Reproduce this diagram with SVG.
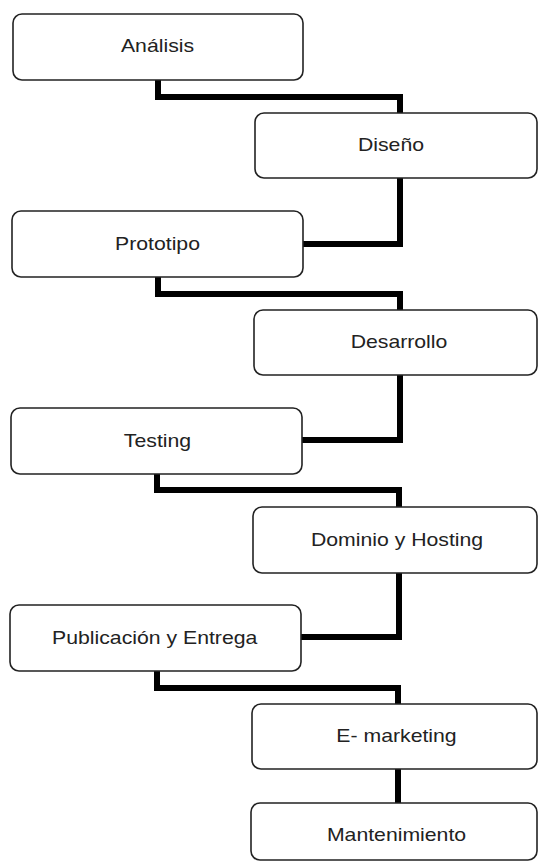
<svg xmlns="http://www.w3.org/2000/svg" width="539" height="863" viewBox="0 0 539 863">
<style>
.box{fill:#fff;stroke:#222;stroke-width:1.6}
.lbl{font-family:"Liberation Sans",Arial,sans-serif;font-size:18px;fill:#222;text-anchor:middle}
.con{fill:none;stroke:#000;stroke-width:6;stroke-linejoin:miter;stroke-linecap:butt}
</style>
<rect width="539" height="863" fill="#fff"/>
<g id="connectors">
<path class="con" d="M158,80 V97 H400 V113"/>
<path class="con" d="M400,178 V244 H303"/>
<path class="con" d="M158,277 V294 H400 V310"/>
<path class="con" d="M400,375 V440 H302"/>
<path class="con" d="M157,474 V490 H399 V507"/>
<path class="con" d="M399,573 V637 H301"/>
<path class="con" d="M157,671 V688 H398 V704"/>
<path class="con" d="M398,769 V803"/>
</g>
<g id="analisis"><rect class="box" x="13" y="14" width="290" height="66" rx="9"/><text class="lbl" transform="translate(157.5,52) scale(1.18,1)">Análisis</text></g>
<g id="diseno"><rect class="box" x="255" y="113" width="282" height="65" rx="9"/><text class="lbl" transform="translate(391,151) scale(1.18,1)">Diseño</text></g>
<g id="prototipo"><rect class="box" x="12" y="211" width="291" height="66" rx="9"/><text class="lbl" transform="translate(157.5,250) scale(1.18,1)">Prototipo</text></g>
<g id="desarrollo"><rect class="box" x="254" y="310" width="283" height="65" rx="9"/><text class="lbl" transform="translate(399,348) scale(1.18,1)">Desarrollo</text></g>
<g id="testing"><rect class="box" x="11" y="408" width="291" height="66" rx="9"/><text class="lbl" transform="translate(157.5,447) scale(1.18,1)">Testing</text></g>
<g id="dominio"><rect class="box" x="253" y="507" width="284" height="66" rx="9"/><text class="lbl" transform="translate(397,546) scale(1.18,1)">Dominio y Hosting</text></g>
<g id="publicacion"><rect class="box" x="10" y="605" width="291" height="66" rx="9"/><text class="lbl" transform="translate(154.7,644) scale(1.18,1)">Publicación y Entrega</text></g>
<g id="emarketing"><rect class="box" x="252" y="704" width="285" height="65" rx="9"/><text class="lbl" transform="translate(396.5,742) scale(1.18,1)">E- marketing</text></g>
<g id="mantenimiento"><rect class="box" x="251" y="803" width="286" height="57" rx="9"/><text class="lbl" transform="translate(396.5,841) scale(1.18,1)">Mantenimiento</text></g>
</svg>
